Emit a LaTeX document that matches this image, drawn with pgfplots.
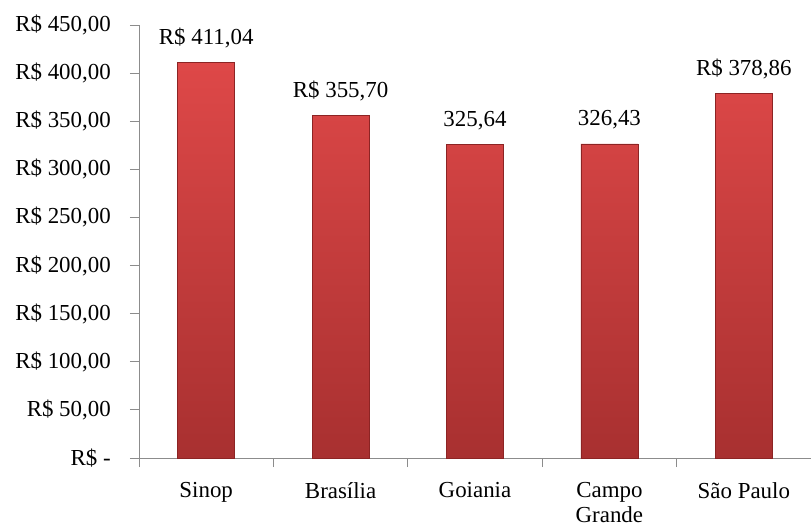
\documentclass[border=0pt]{standalone}
\usepackage{fontspec}
\setmainfont{Liberation Serif}
\usepackage{pgfplots}
\pgfplotsset{compat=1.18}
\definecolor{bartop}{RGB}{222,72,72}
\definecolor{barbot}{RGB}{168,48,48}
\definecolor{bardraw}{RGB}{140,36,36}
\definecolor{axgray}{RGB}{140,140,140}
\begin{document}
\begin{tikzpicture}
\begin{axis}[
  scale only axis,
  width=672bp, height=433bp,
  xmin=-0.5, xmax=4.5,
  ymin=0, ymax=450,
  axis x line=bottom, axis y line=left,
  axis line style={-, draw=axgray, line width=0.8pt},
  tick style={draw=axgray, line width=0.8pt},
  tick align=outside,
  major tick length=9bp,
  xtick={-0.5,0.5,1.5,2.5,3.5,4.5},
  xticklabels={Sinop,Brasília,Goiania,{Campo\\Grande},São Paulo},
  x tick label as interval,
  xticklabel style={font=\fontsize{23}{25}\selectfont, align=center, anchor=north, inner sep=0pt, yshift=-15bp},
  ytick={0,50,100,150,200,250,300,350,400,450},
  yticklabels={{R\$ -\hspace{0.45em}},{R\$ 50,00},{R\$ 100,00},{R\$ 150,00},{R\$ 200,00},{R\$ 250,00},{R\$ 300,00},{R\$ 350,00},{R\$ 400,00},{R\$ 450,00}},
  yticklabel style={font=\fontsize{23}{25}\selectfont, anchor=east, inner sep=0pt, xshift=-19bp},
  ybar, bar width=57bp,
  point meta=explicit symbolic,
  nodes near coords,
  every node near coord/.append style={font=\fontsize{23}{25}\selectfont, anchor=base, inner sep=0pt, yshift=18bp, text=black},
  clip=false,
]
\addplot[ybar, bar width=57bp, draw=bardraw, line width=0.5pt, top color=bartop, bottom color=barbot]
  coordinates {
    (0,411.04) [R\$ 411,04]
    (1,355.70) [R\$ 355,70]
    (2,325.64) [325,64]
    (3,326.43) [326,43]
    (4,378.86) [R\$ 378,86]
  };
\end{axis}
\pgfresetboundingbox
\path ([shift={(-139bp,-68bp)}]current axis.south west) rectangle ([shift={(0bp,25bp)}]current axis.north east);
\end{tikzpicture}
\end{document}
